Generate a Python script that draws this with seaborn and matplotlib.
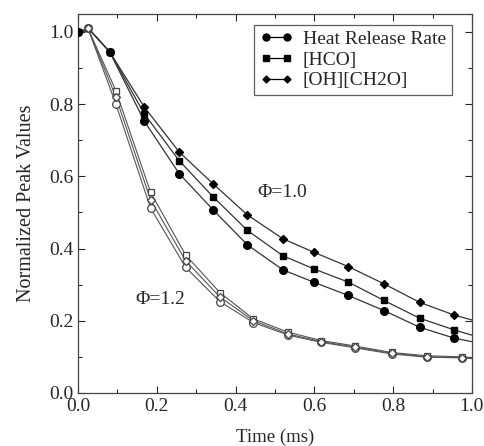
import numpy as np
import pandas as pd
import matplotlib
matplotlib.use("Agg")
import matplotlib.pyplot as plt
from matplotlib.lines import Line2D
from matplotlib.ticker import MultipleLocator
import seaborn as sns

# ---- data ----
# phi = 1.0 (filled markers)
t_lean = [0.0, 0.03, 0.08, 0.168, 0.257, 0.343, 0.43, 0.52, 0.60, 0.686, 0.777, 0.867, 0.954, 1.0]
hrr_lean = [1.0, 1.005, 0.945, 0.753, 0.607, 0.507, 0.41, 0.341, 0.306, 0.27, 0.228, 0.182, 0.152, 0.142]
hco_lean = [1.0, 1.005, 0.945, 0.773, 0.643, 0.543, 0.45, 0.38, 0.343, 0.307, 0.256, 0.207, 0.175, 0.16]
ohch2o_lean = [1.0, 1.005, 0.945, 0.792, 0.667, 0.579, 0.493, 0.427, 0.389, 0.35, 0.302, 0.251, 0.216, 0.202]
mark_lean = [0, 2, 3, 4, 5, 6, 7, 8, 9, 10, 11, 12]

# phi = 1.2 (open markers)
t_rich = [0.0, 0.025, 0.096, 0.184, 0.273, 0.36, 0.445, 0.534, 0.618, 0.703, 0.796, 0.885, 0.974, 1.0]
hrr_rich = [1.0, 1.01, 0.80, 0.512, 0.348, 0.253, 0.195, 0.16, 0.14, 0.125, 0.108, 0.099, 0.097, 0.095]
hco_rich = [1.0, 1.01, 0.837, 0.556, 0.382, 0.278, 0.205, 0.168, 0.145, 0.13, 0.112, 0.103, 0.10, 0.098]
ohch2o_rich = [1.0, 1.01, 0.82, 0.535, 0.366, 0.266, 0.20, 0.163, 0.142, 0.127, 0.11, 0.10, 0.098, 0.096]
mark_rich = [1, 2, 3, 4, 5, 6, 7, 8, 9, 10, 11, 12]

series_names = ["Heat Release Rate", "[HCO]", "[OH][CH2O]"]
markers = ["o", "s", "D"]
msizes = [5.5, 5, 4]

sns.set_style("ticks")
plt.rcParams["font.family"] = ["Liberation Serif", "DejaVu Serif"]

fig = plt.figure(figsize=(4.85, 4.46), dpi=100)
ax = fig.add_axes([0.161, 0.119, 0.812, 0.85])

lean = [hrr_lean, hco_lean, ohch2o_lean]
rich = [hrr_rich, hco_rich, ohch2o_rich]

for vals, mk, ms in zip(lean, markers, msizes):
    df = pd.DataFrame({"t": t_lean, "v": vals})
    sns.lineplot(data=df, x="t", y="v", ax=ax, color="#333333", lw=0.9, sort=False)
    dm = df.iloc[mark_lean]
    ax.plot(dm["t"], dm["v"], ls="", marker=mk, ms=ms, color="black", zorder=3)

for vals, mk, ms in zip(rich, markers, msizes):
    df = pd.DataFrame({"t": t_rich, "v": vals})
    sns.lineplot(data=df, x="t", y="v", ax=ax, color="#555555", lw=0.8, sort=False)
    dm = df.iloc[mark_rich]
    ax.plot(dm["t"], dm["v"], ls="", marker=mk, ms=ms, mfc="white",
            mec="#444444", mew=0.9, zorder=3)

ax.set_xlim(0, 1.0)
ax.set_ylim(0, 1.05)
ax.xaxis.set_major_locator(MultipleLocator(0.2))
ax.xaxis.set_minor_locator(MultipleLocator(0.1))
ax.yaxis.set_major_locator(MultipleLocator(0.2))
ax.yaxis.set_minor_locator(MultipleLocator(0.1))
ax.tick_params(which="both", direction="in", top=True, right=True, labelsize=14, width=0.8)
ax.tick_params(which="major", length=5)
ax.tick_params(which="minor", length=3)
for s in ax.spines.values():
    s.set_linewidth(0.9)
    s.set_color("#444444")

ax.set_xlabel("Time (ms)", fontsize=13.5, labelpad=10)
ax.set_ylabel("Normalized Peak Values", fontsize=14.5, labelpad=9)

ax.text(0.518, 0.554, "Φ=1.0", fontsize=14, ha="center", va="center")
ax.text(0.21, 0.26, "Φ=1.2", fontsize=14, ha="center", va="center")

handles = [Line2D([], [], color="black", lw=0.9, marker=mk, ms=ms - 0.5)
           for mk, ms in zip(markers, msizes)]
leg = ax.legend(handles, series_names, loc="upper right", numpoints=2, fontsize=14,
                frameon=True, fancybox=False, edgecolor="#333333", handlelength=1.7,
                handletextpad=0.5, borderpad=0.3, labelspacing=0.15, borderaxespad=0,
                bbox_to_anchor=(0.949, 0.971))
leg.get_frame().set_linewidth(0.9)

fig.savefig("out.png", dpi=100)
